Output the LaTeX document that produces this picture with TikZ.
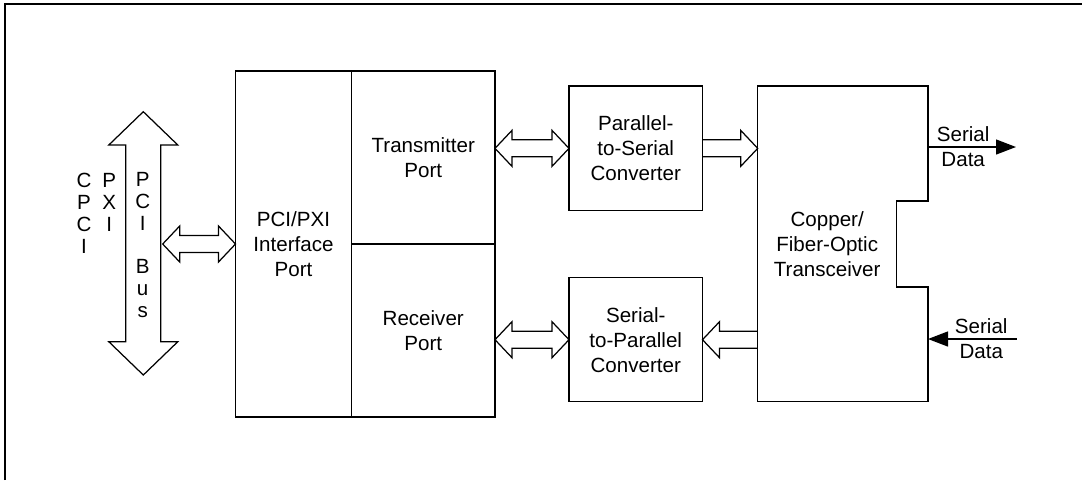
\documentclass[tikz,border=0pt]{standalone}
\usepackage{fontspec}
\setmainfont{Liberation Sans}
\usetikzlibrary{calc,arrows.meta}

\begin{document}
\begin{tikzpicture}
\tikzset{
    every node/.style={font=\fontsize{11.7}{14.2}\selectfont},
    box/.style={draw,line width=0.7pt,inner sep=0pt,outer sep=0pt,align=center},
    vtxt/.style={align=center,font=\fontsize{11.7}{12.35}\selectfont},
    headlen/.store in=\headlen, headwd/.store in=\headwd, shaftwd/.store in=\shaftwd,
    headlen=0.34cm, headwd=0.36cm, shaftwd=0.17cm,
    fat both/.style={line width=0.7pt,to path={
        -- ($($(\tikztostart)!\headlen!(\tikztotarget)$)!\headwd!90:(\tikztotarget)$)
        -- ($($(\tikztostart)!\headlen!(\tikztotarget)$)!\shaftwd!90:(\tikztotarget)$)
        -- ($($(\tikztotarget)!\headlen!(\tikztostart)$)!\shaftwd!-90:(\tikztostart)$)
        -- ($($(\tikztotarget)!\headlen!(\tikztostart)$)!\headwd!-90:(\tikztostart)$)
        -- (\tikztotarget)
        -- ($($(\tikztotarget)!\headlen!(\tikztostart)$)!\headwd!90:(\tikztostart)$)
        -- ($($(\tikztotarget)!\headlen!(\tikztostart)$)!\shaftwd!90:(\tikztostart)$)
        -- ($($(\tikztostart)!\headlen!(\tikztotarget)$)!\shaftwd!-90:(\tikztotarget)$)
        -- ($($(\tikztostart)!\headlen!(\tikztotarget)$)!\headwd!-90:(\tikztotarget)$)
        -- cycle}},
    fat/.style={line width=0.7pt,to path={
        ($(\tikztostart)!\shaftwd!90:(\tikztotarget)$)
        -- ($($(\tikztotarget)!\headlen!(\tikztostart)$)!\shaftwd!-90:(\tikztostart)$)
        -- ($($(\tikztotarget)!\headlen!(\tikztostart)$)!\headwd!-90:(\tikztostart)$)
        -- (\tikztotarget)
        -- ($($(\tikztotarget)!\headlen!(\tikztostart)$)!\headwd!90:(\tikztostart)$)
        -- ($($(\tikztotarget)!\headlen!(\tikztostart)$)!\shaftwd!90:(\tikztostart)$)
        -- ($(\tikztostart)!\shaftwd!-90:(\tikztotarget)$)}},
    sig/.style={line width=0.7pt,-{Triangle[length=4mm,width=3mm]}}
}
\useasboundingbox (0,0) rectangle (21.64,-9.6);
\draw[line width=1.2pt] (0.1,-9.6) |- (21.64,-0.086);

% PCI bus
\coordinate (bustop) at (2.866,-2.234);
\coordinate (busbot) at (2.866,-7.5);
\coordinate (busr) at (3.254,-4.88);
\draw[fat both,headlen=0.666cm,headwd=0.69cm,shaftwd=0.35cm] (bustop) to (busbot);
\node[vtxt] (cpci) at (1.68,-4.266){C\\P\\C\\I};
\node[vtxt] (pxi) at (2.186,-4.05){P\\X\\I};
\node[vtxt] (pcibus) at (2.854,-4.9){P\\C\\I\\[12.35pt]B\\u\\s};

% Blocks
\node[box,minimum width=2.32cm,minimum height=6.92cm] (pci) at (5.87,-4.88){PCI/PXI\\Interface\\Port};
\node[box,minimum width=2.87cm,minimum height=3.46cm] (tx) at (8.465,-3.15){Transmitter\\Port};
\node[box,minimum width=2.87cm,minimum height=3.46cm] (rx) at (8.465,-6.61){Receiver\\Port};
\node[box,minimum width=2.67cm,minimum height=2.49cm] (p2s) at (12.715,-2.967){Parallel-\\to-Serial\\Converter};
\node[box,minimum width=2.67cm,minimum height=2.48cm] (s2p) at (12.715,-6.794){Serial-\\to-Parallel\\Converter};
\node[box,draw=none,minimum width=2.78cm,minimum height=6.314cm] (trx) at (16.544,-4.877){Copper/\\Fiber-Optic\\Transceiver};
\draw[line width=0.7pt] (trx.north west) -- ++(3.406,0) -- ++(0,-2.3) -- ++(-0.626,0)
    -- ++(0,-1.72) -- ++(0.626,0) |- (trx.south west) -- cycle;

% Data paths
\draw[fat both] (busr) to (pci.west);
\draw[fat both] (tx.east |- p2s.west) to (p2s.west);
\draw[fat both] (rx.east |- s2p.west) to (s2p.west);
\draw[fat] (p2s.east) to (p2s.east -| trx.west);
\draw[fat] (s2p.east -| trx.west) to (s2p.east);

% Serial data
\coordinate (trxout) at (18.56,-2.94);
\coordinate (sout) at (20.32,-2.94);
\coordinate (sin) at (20.334,-6.78);
\coordinate (trxin) at (18.56,-6.78);
\draw[sig] (trxout) -- (sout) node[pos=0.4,align=center] (lblout){Serial\\Data};
\draw[sig] (sin) -- (trxin) node[pos=0.4,align=center] (lblin){Serial\\Data};
\end{tikzpicture}
\end{document}
